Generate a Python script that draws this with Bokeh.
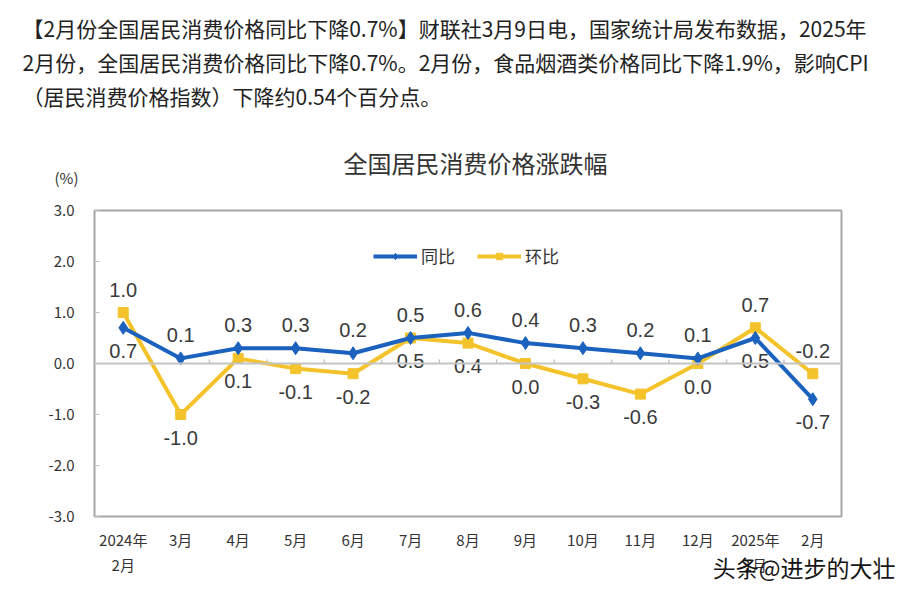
from bokeh.plotting import figure
from bokeh.models import (Label, Legend, LegendItem, Span, FixedTicker,
                          PrintfTickFormatter, ColumnDataSource, Range1d)
from bokeh.embed import file_html
from bokeh.resources import INLINE

# ---------------- data ----------------
months = ["2024年\n2月", "3月", "4月", "5月", "6月", "7月", "8月", "9月",
          "10月", "11月", "12月", "2025年\n1月", "2月"]
yoy = [0.7, 0.1, 0.3, 0.3, 0.2, 0.5, 0.6, 0.4, 0.3, 0.2, 0.1, 0.5, -0.7]   # 同比
mom = [1.0, -1.0, 0.1, -0.1, -0.2, 0.5, 0.4, 0.0, -0.3, -0.6, 0.0, 0.7, -0.2]  # 环比
y_ticks = [-3, -2, -1, 0, 1, 2, 3]

header_lines = [
    "【2月份全国居民消费价格同比下降0.7%】财联社3月9日电，国家统计局发布数据，2025年",
    "2月份，全国居民消费价格同比下降0.7%。2月份，食品烟酒类价格同比下降1.9%，影响CPI",
    "（居民消费价格指数）下降约0.54个百分点。",
]
chart_title = "全国居民消费价格涨跌幅"
unit_label = "(%)"
watermark = "头条@进步的大壮"

BLUE = "#1a62bd"
YELLOW = "#f4c32c"
CJK = "Noto Sans CJK SC"

# ---------------- layout (canvas pixels) ----------------
W, H = 910, 589
FL, FT, FR, FB = 94, 210, 841, 516   # frame edges
n = len(months)
YMIN, YMAX = -3, 3

def px2x(px):
    return (px - FL) / (FR - FL) * n

def py2y(py):
    return YMAX - (py - FT) / (FB - FT) * (YMAX - YMIN)

p = figure(width=W, height=H, output_backend="svg", toolbar_location=None,
           x_range=Range1d(0, n), y_range=Range1d(YMIN, YMAX),
           min_border_left=FL, min_border_top=FT,
           min_border_right=W - FR, min_border_bottom=H - FB)
p.border_fill_color = "white"
p.background_fill_color = "white"
p.outline_line_color = "#a8a8a8"
p.outline_line_width = 2
p.xgrid.visible = False
p.ygrid.visible = False

xs = [i + 0.5 for i in range(n)]

# axes
p.xaxis.ticker = FixedTicker(ticks=xs)
p.xaxis.major_label_overrides = {x: m for x, m in zip(xs, months)}
p.xaxis.axis_line_color = None
p.xaxis.major_tick_line_color = None
p.xaxis.minor_tick_line_color = None
p.xaxis.major_label_standoff = 6
p.xaxis.major_label_text_font = CJK
p.xaxis.major_label_text_font_size = "15px"
p.xaxis.major_label_text_color = "#333333"

p.yaxis.ticker = FixedTicker(ticks=y_ticks)
p.yaxis.formatter = PrintfTickFormatter(format="%.1f")
p.yaxis.axis_line_color = None
p.yaxis.major_tick_in = 5
p.yaxis.major_tick_out = 0
p.yaxis.major_tick_line_color = "#c0c0c0"
p.yaxis.minor_tick_line_color = None
p.yaxis.major_label_standoff = 20
p.yaxis.major_label_text_font = CJK
p.yaxis.major_label_text_font_size = "15px"
p.yaxis.major_label_text_color = "#333333"

# zero line with category boundary ticks
p.add_layout(Span(location=0, dimension="width", line_color="#c4c4c4", line_width=2))
bounds = list(range(1, n))
p.segment(x0=bounds, y0=[0] * len(bounds), x1=bounds, y1=[0.08] * len(bounds),
          line_color="#c4c4c4", line_width=1.5)

# series
src = ColumnDataSource(dict(x=xs, yoy=yoy, mom=mom))
l_mom = p.line("x", "mom", source=src, line_color=YELLOW, line_width=4)
s_mom = p.scatter("x", "mom", source=src, marker="square", size=10,
                  fill_color=YELLOW, line_color=YELLOW)
l_yoy = p.line("x", "yoy", source=src, line_color=BLUE, line_width=4)
s_yoy = p.scatter("x", "yoy", source=src, marker="diamond", size=13,
                  fill_color=BLUE, line_color=BLUE)

# data labels
lab_x, lab_y, lab_t, lab_off = [], [], [], []
for x, a, b in zip(xs, yoy, mom):
    blue_up = a >= b
    lab_x += [x, x]
    lab_y += [a, b]
    lab_t += ["%.1f" % a, "%.1f" % b]
    lab_off += [-23 if blue_up else 23, 23 if blue_up else -23]
p.text(x=lab_x, y=lab_y, text=lab_t, y_offset=lab_off,
       text_align="center", text_baseline="middle",
       text_font_size="20px", text_color="#3a3a3a",
       text_font={"value": "Liberation Sans"})

# legend
legend = Legend(items=[LegendItem(label="同比", renderers=[l_yoy, s_yoy]),
                       LegendItem(label="环比", renderers=[l_mom, s_mom])],
                orientation="horizontal", location=(279, 248),
                glyph_width=44, glyph_height=16, label_standoff=4, spacing=22,
                padding=0, margin=0, border_line_color=None,
                background_fill_alpha=0,
                label_text_font=CJK, label_text_font_size="17px",
                label_text_color="#333333")
p.add_layout(legend)

# header text, title, unit, watermark (placed in a side panel so they are not clipped)
texts = []
for i, line in enumerate(header_lines):
    texts.append(Label(x=px2x(22), y=py2y(27 + 34 * i), text=line,
                       text_align="left", text_baseline="middle",
                       text_font=CJK, text_font_size="21px",
                       text_color="#222222"))
texts.append(Label(x=px2x(475), y=py2y(162), text=chart_title,
                   text_align="center", text_baseline="middle",
                   text_font=CJK, text_font_size="24px", text_color="#333333"))
texts.append(Label(x=px2x(66), y=py2y(177), text=unit_label,
                   text_align="center", text_baseline="middle",
                   text_font=CJK, text_font_size="15px", text_color="#333333"))
texts.append(Label(x=px2x(895), y=py2y(566), text=watermark,
                   text_align="right", text_baseline="middle",
                   text_font=CJK, text_font_size="23px", text_color="#151515"))
for t in texts:
    p.add_layout(t, "above")

open("out.html", "w").write(file_html(p, INLINE))
